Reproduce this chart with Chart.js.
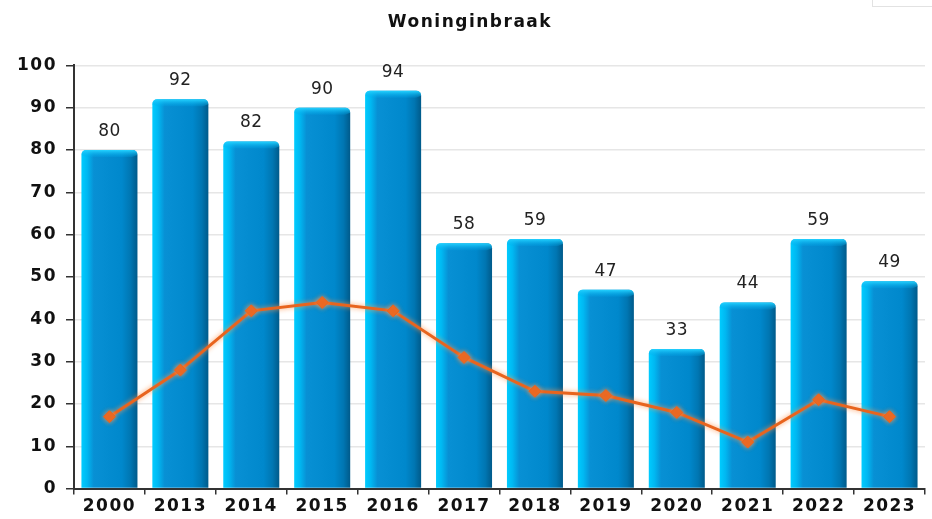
<!DOCTYPE html>
<html><head><meta charset="utf-8">
<script src="https://cdn.jsdelivr.net/npm/chart.js@4"></script>
<style>
html,body{margin:0;padding:0;background:#fff;}
#wrap{position:relative;width:932px;height:519px;}
#box{position:absolute;left:872px;top:-1px;width:70px;height:6px;border:1px solid #e2e2e2;}
</style></head>
<body><div id="wrap"><canvas id="c" width="932" height="519"></canvas><div id="box"></div></div>
<script>
const categories = ['2000','2013','2014','2015','2016','2017','2018','2019','2020','2021','2022','2023'];
const barValues = [80,92,82,90,94,58,59,47,33,44,59,49];
const lineValues = [17,28,42,44,42,31,23,22,18,11,21,17];
const yTicks = [0,10,20,30,40,50,60,70,80,90,100];
const titleText = 'Woninginbraak';

const FONT = "'DejaVu Sans', sans-serif";
const BAR_PCT = 0.79;

function barGradient(ctx){
  const chart = ctx.chart;
  const xs = chart.scales && chart.scales.x;
  if (!chart.chartArea || !xs || ctx.dataIndex === undefined) return '#0088cc';
  const cx = xs.getPixelForValue(ctx.dataIndex);
  const w = (xs.width / categories.length) * BAR_PCT;
  const x0 = cx - w/2, x1 = cx + w/2;
  const g = chart.ctx.createLinearGradient(x0,0,x1,0);
  g.addColorStop(0,'#00ccff');
  g.addColorStop(0.1,'#00b8f2');
  g.addColorStop(0.22,'#0890d4');
  g.addColorStop(0.72,'#0088cc');
  g.addColorStop(0.88,'#0076b2');
  g.addColorStop(1,'#005a8a');
  return g;
}

const spacingPlugin = {
  id:'spacing',
  beforeInit(chart){ chart.ctx.letterSpacing = '1.5px'; },
  beforeUpdate(chart){ chart.ctx.letterSpacing = '1.5px'; },
  beforeDraw(chart){ chart.ctx.letterSpacing = '1.5px'; }
};

const capPlugin = {
  id:'caps',
  afterDatasetDraw(chart, args){
    if (args.index !== 0) return;
    const meta = args.meta; const c = chart.ctx;
    c.save();
    meta.data.forEach((el,i)=>{
      const x0 = el.x - el.width/2, w = el.width, y = el.y;
      const g = c.createLinearGradient(0,y,0,y+7);
      g.addColorStop(0,'#25d2ff');
      g.addColorStop(1,'rgba(0,170,235,0.2)');
      c.fillStyle = g;
      c.beginPath();
      c.moveTo(x0+5,y);
      c.lineTo(x0+w-5,y);
      c.quadraticCurveTo(x0+w,y,x0+w,y+5);
      c.lineTo(x0+w-5,y+7);
      c.lineTo(x0+5,y+7);
      c.lineTo(x0,y+5);
      c.quadraticCurveTo(x0,y,x0+5,y);
      c.fill();
    });
    c.restore();
  }
};

const labelPlugin = {
  id:'barLabels',
  afterDatasetsDraw(chart){
    const meta = chart.getDatasetMeta(0); const c = chart.ctx;
    c.save();
    c.letterSpacing = '0.5px';
    c.font = "17px " + FONT;
    c.fillStyle = '#222';
    c.textAlign = 'center';
    c.textBaseline = 'bottom';
    meta.data.forEach((el,i)=>{
      c.fillText(String(barValues[i]), el.x, el.y - 10);
    });
    c.restore();
  }
};

const glowPlugin = {
  id:'glow',
  beforeDatasetDraw(chart,args){
    if (args.index !== 1) return;
    const c = chart.ctx; c.save();
    c.shadowColor = 'rgba(255,150,80,0.9)';
    c.shadowBlur = 5;
  },
  afterDatasetDraw(chart,args){
    if (args.index !== 1) return;
    chart.ctx.restore();
  }
};

new Chart(document.getElementById('c'), {
  type:'bar',
  data:{
    labels: categories,
    datasets:[
      {type:'bar', data: barValues, backgroundColor: barGradient, borderWidth:0,
       borderRadius:{topLeft:5,topRight:5,bottomLeft:0,bottomRight:0}, borderSkipped:'bottom',
       categoryPercentage:BAR_PCT, barPercentage:1, order:2},
      {type:'line', data: lineValues, borderColor:'#e8641e', borderWidth:3, pointStyle:'rectRot',
       pointRadius:6, pointBackgroundColor:'#e8641e', pointBorderColor:'#e8641e', pointBorderWidth:1,
       tension:0, order:1}
    ]
  },
  options:{
    responsive:false, animation:false,
    layout:{padding:{left:8,right:0,top:0,bottom:0}},
    plugins:{
      legend:{display:false}, tooltip:{enabled:false},
      title:{display:true, text:titleText, color:'#111', font:{family:FONT,size:17,weight:'bold'}, padding:{top:12,bottom:33}}
    },
    scales:{
      x:{
        offset:true,
        grid:{offset:true, drawOnChartArea:false, drawTicks:true, tickLength:6, color:'#333', lineWidth:1.5},
        border:{display:true, color:'#333', width:2},
        ticks:{color:'#111', font:{family:FONT,size:17,weight:'bold'}, padding:2, maxRotation:0, autoSkip:false}
      },
      y:{
        min:0, max:100,
        afterBuildTicks(axis){ axis.ticks = yTicks.map(v=>({value:v})); },
        grid:{color:'#e6e6e6', lineWidth:1.5, drawTicks:true, tickLength:8, tickColor:'#333'},
        border:{display:true, color:'#333', width:2},
        ticks:{color:'#111', font:{family:FONT,size:17,weight:'bold'}, padding:9}
      }
    }
  },
  plugins:[spacingPlugin, capPlugin, labelPlugin, glowPlugin]
});
</script>
</body></html>
